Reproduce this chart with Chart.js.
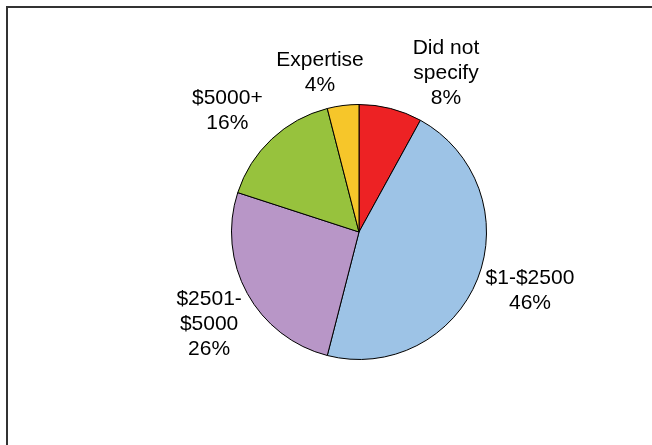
<!DOCTYPE html>
<html lang="en">
<head>
    <meta charset="UTF-8">
    <title>Compensation breakdown</title>
    <script src="https://cdn.jsdelivr.net/npm/chart.js"></script>
    <style>
        html, body { margin: 0; padding: 0; background: #fff; overflow: hidden; }
        #frame {
            position: absolute; left: 6px; top: 6px;
            width: 700px; height: 500px;
            border: 2px solid #333;
        }
        #pieChart { position: absolute; left: 0; top: 0; }
    </style>
</head>
<body>
    <div id="frame"></div>
    <canvas id="pieChart" width="652" height="445"></canvas>
    <script>
        const categories = [['Did not', 'specify'], ['$1-$2500'], ['$2501-', '$5000'], ['$5000+'], ['Expertise']];
        const shares = [8, 46, 26, 16, 4];
        const sliceColors = ['#ED2224', '#9DC3E6', '#B896C7', '#97C23D', '#F6C62A'];

        // puts "name / NN%" outside each slice, pushed out along its mid angle
        const sliceLabels = {
            id: 'sliceLabels',
            afterDatasetsDraw(chart, args, opts) {
                const ctx = chart.ctx;
                const meta = chart.getDatasetMeta(0);
                ctx.save();
                ctx.font = opts.font;
                ctx.fillStyle = '#000';
                ctx.textAlign = 'center';
                ctx.textBaseline = 'middle';
                meta.data.forEach((arc, i) => {
                    const lines = [...chart.data.labels[i], shares[i] + '%'];
                    const w = Math.max(...lines.map(l => ctx.measureText(l).width));
                    const h = lines.length * opts.lineHeight;
                    const mid = (arc.startAngle + arc.endAngle) / 2;
                    const ux = Math.cos(mid), uy = Math.sin(mid);
                    const r = arc.outerRadius + opts.gap;
                    const nudge = opts.nudge[i] || [0, 0];
                    const cx = arc.x + ux * r + ux * w / 2 + nudge[0];
                    const cy = arc.y + uy * r + uy * h / 2 + nudge[1];
                    lines.forEach((line, j) => {
                        ctx.fillText(line, cx, cy + (j - (lines.length - 1) / 2) * opts.lineHeight);
                    });
                });
                ctx.restore();
            }
        };

        const ctx = document.getElementById('pieChart').getContext('2d');
        new Chart(ctx, {
            type: 'pie',
            data: {
                labels: categories,
                datasets: [{
                    data: shares,
                    backgroundColor: sliceColors,
                    borderColor: '#000',
                    borderWidth: 1
                }]
            },
            options: {
                responsive: false,
                animation: false,
                layout: { padding: { left: 231, right: 165, top: 104, bottom: 85 } },
                plugins: {
                    legend: { display: false },
                    tooltip: { enabled: false },
                    sliceLabels: {
                        font: '21px "Liberation Sans", Arial, sans-serif',
                        lineHeight: 25,
                        gap: 12,
                        nudge: [[44, 13], [0, -2], [1, 7], [-12, -1], [-16, 4]]
                    }
                }
            },
            plugins: [sliceLabels]
        });
    </script>
</body>
</html>
